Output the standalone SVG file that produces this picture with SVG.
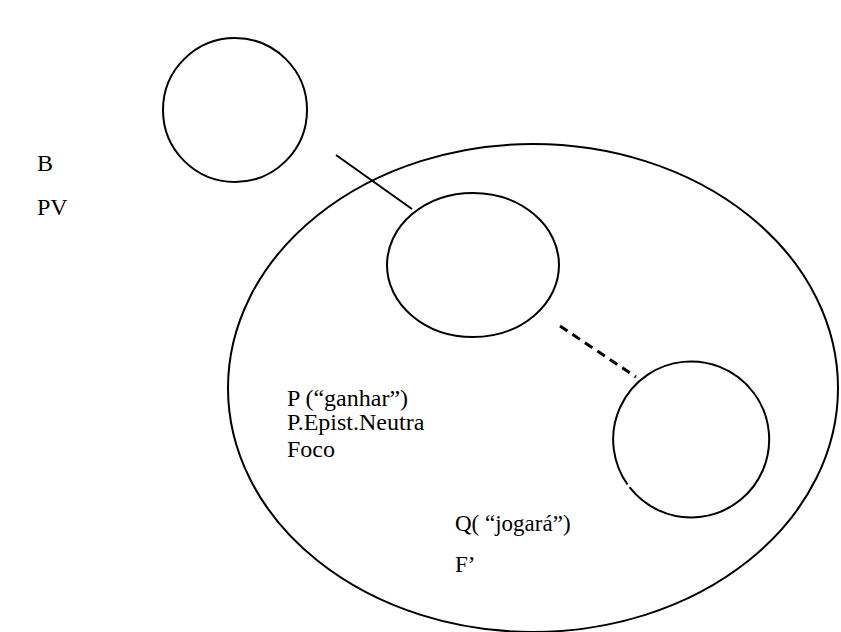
<svg xmlns="http://www.w3.org/2000/svg" width="841" height="632" viewBox="0 0 841 632">
  <style>
    .shape { fill: none; stroke: #000; stroke-width: 2; }
    .link { fill: none; stroke: #000; stroke-width: 2; }
    .dashed { fill: none; stroke: #000; stroke-width: 3; stroke-dasharray: 9 6; }
    .label { font-family: "Liberation Serif", "Times New Roman", serif; font-size: 24px; fill: #000; }
    .label-sm { font-size: 23px; }
  </style>
  <rect width="841" height="632" fill="#fff"/>

  <!-- side labels -->
  <g id="side-labels">
    <text class="label" x="37" y="171">B</text>
    <text class="label" x="37" y="215">PV</text>
  </g>

  <!-- large enclosing region -->
  <g id="region-main">
    <ellipse class="shape" cx="533" cy="388" rx="305" ry="244"/>
    <text class="label" x="287" y="406">P (“ganhar”)</text>
    <text class="label" x="287" y="430">P.Epist.Neutra</text>
    <text class="label" x="287" y="457">Foco</text>
    <text class="label label-sm" x="455" y="531">Q( “jogará”)</text>
    <text class="label label-sm" x="455" y="572">F’</text>
  </g>

  <g id="node-top">
    <ellipse class="shape" cx="235" cy="110" rx="72" ry="72"/>
  </g>

  <g id="node-middle">
    <ellipse class="shape" cx="473" cy="265" rx="86" ry="72"/>
  </g>

  <!-- right circle, with a small break in the stroke on its lower left -->
  <g id="node-right">
    <path class="shape" d="M 627.5 484.5 A 78 78 0 1 1 629.5 487.2"/>
  </g>

  <g id="connectors">
    <line class="link" x1="336" y1="155" x2="412" y2="209"/>
    <line class="dashed" x1="560" y1="326" x2="636" y2="377"/>
  </g>
</svg>
